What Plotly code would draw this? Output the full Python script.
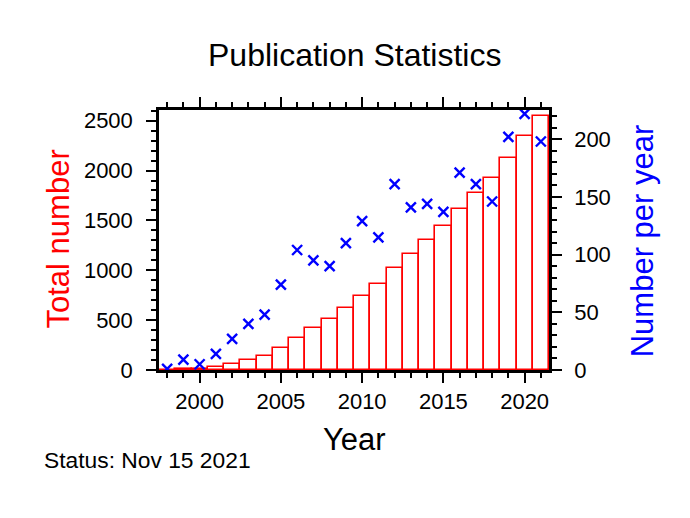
import plotly.graph_objects as go

years = [1998, 1999, 2000, 2001, 2002, 2003, 2004, 2005, 2006, 2007, 2008, 2009,
         2010, 2011, 2012, 2013, 2014, 2015, 2016, 2017, 2018, 2019, 2020, 2021]
per_year = [1, 9, 5, 14, 27, 40, 48, 74, 104, 95, 90, 110,
            129, 115, 161, 141, 144, 137, 171, 161, 146, 202, 222, 198]
total = [1, 10, 15, 29, 56, 96, 144, 218, 322, 417, 507, 617,
         746, 861, 1022, 1163, 1307, 1444, 1615, 1776, 1922, 2124, 2346, 2544]

OFF = 8  # page body margin
W, H = 690 - OFF, 518 - OFF
L, R, T, B = 159 - OFF, 549 - OFF, 110 - OFF, 370 - OFF
FONT = "Liberation Sans, Arial, sans-serif"


def px(x):
    return (x - OFF - L) / (R - L)


def py(y):
    return (B - (y - OFF)) / (B - T)


fig = go.Figure()
fig.add_trace(go.Bar(
    x=years, y=total, width=1.0,
    marker=dict(color="white", line=dict(color="red", width=1.6)),
    yaxis="y", showlegend=False,
))
fig.add_trace(go.Scatter(
    x=years, y=per_year, mode="markers", yaxis="y2",
    marker=dict(symbol="x-thin", size=10, line=dict(color="blue", width=2.4)),
    showlegend=False,
))

axis_common = dict(
    showline=True, linecolor="black", linewidth=2.5,
    ticks="outside", ticklen=10, tickwidth=1.5, tickcolor="black",
    showgrid=False, zeroline=False,
    tickfont=dict(family=FONT, size=22, color="black"),
)

fig.update_layout(
    width=W, height=H,
    margin=dict(l=L, r=W - R, t=T, b=H - B, pad=0),
    paper_bgcolor="white", plot_bgcolor="white",
    bargap=0,
    xaxis=dict(range=[1997.5, 2021.5], tick0=2000, dtick=5, mirror="ticks",
               minor=dict(dtick=1, ticks="outside", ticklen=5, tickwidth=1.5, tickcolor="black"),
               **axis_common),
    yaxis=dict(range=[0, 2607], tick0=0, dtick=500, ticklabelstandoff=9,
               minor=dict(dtick=100, ticks="outside", ticklen=5, tickwidth=1.5, tickcolor="black"),
               **axis_common),
    yaxis2=dict(range=[0, 225.3], tick0=0, dtick=50, overlaying="y", side="right",
                ticklabelstandoff=8,
                minor=dict(dtick=10, ticks="outside", ticklen=5, tickwidth=1.5, tickcolor="black"),
                **axis_common),
    font=dict(family=FONT),
)

annots = [
    dict(text="Publication Statistics", x=px(354), y=py(55.3), size=32, color="black", angle=0, xa="center"),
    dict(text="Year", x=px(354.2), y=py(439.3), size=31, color="black", angle=0, xa="center"),
    dict(text="Status: Nov 15 2021", x=px(41.5), y=py(460.1), size=22.8, color="black", angle=0, xa="left"),
    dict(text="Total number", x=px(57.5), y=py(239), size=31, color="red", angle=-90, xa="center"),
    dict(text="Number per year", x=px(642.3), y=py(241), size=31, color="blue", angle=-90, xa="center"),
]
for a in annots:
    fig.add_annotation(text=a["text"], x=a["x"], y=a["y"], xref="paper", yref="paper",
                       xanchor=a["xa"], yanchor="middle", showarrow=False,
                       textangle=a["angle"],
                       font=dict(family=FONT, size=a["size"], color=a["color"]))

fig.write_html("out.html")
